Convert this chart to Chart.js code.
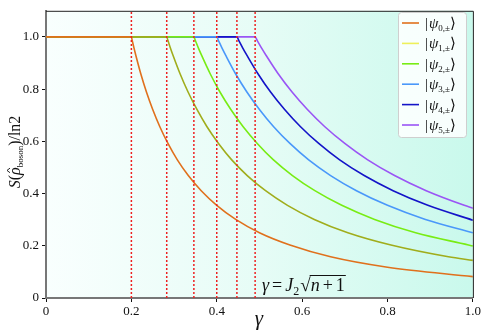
<!DOCTYPE html>
<html>
<head>
<meta charset="utf-8">
<script src="https://cdn.jsdelivr.net/npm/chart.js@4"></script>
<style>
  html, body { margin: 0; padding: 0; background: #fff; }
  canvas { display: block; }
</style>
</head>
<body>
<canvas id="chart" width="483" height="335"></canvas>
<script>
// thresholds gamma = J2 * sqrt(n+1), J2 = 0.2
const thresholds = [0.2, 0.2828, 0.3464, 0.4, 0.4472, 0.4899];

// readings of each curve: gamma values and S/ln2
const gammaN0 = [0, 0.2, 0.202, 0.2062, 0.2105, 0.2222, 0.2353, 0.25, 0.2667, 0.2857, 0.3077, 0.3333, 0.3636, 0.4, 0.4444, 0.5, 0.5714, 0.6667, 0.8, 1.0];
const entropyN0 = [1, 1, 0.986, 0.957, 0.929, 0.858, 0.789, 0.722, 0.656, 0.592, 0.529, 0.469, 0.411, 0.355, 0.301, 0.250, 0.203, 0.158, 0.118, 0.082];

const gammaN1 = [0, 0.2828, 0.2857, 0.2916, 0.2977, 0.3143, 0.3328, 0.3536, 0.3771, 0.4041, 0.4351, 0.4714, 0.5143, 0.5657, 0.6285, 0.7071, 0.8081, 0.9428, 1.0];
const entropyN1 = [1, 1, 0.986, 0.957, 0.929, 0.858, 0.789, 0.722, 0.656, 0.592, 0.529, 0.469, 0.411, 0.355, 0.301, 0.250, 0.203, 0.158, 0.144];

const gammaN2 = [0, 0.3464, 0.3499, 0.3571, 0.3646, 0.3849, 0.4075, 0.433, 0.4619, 0.4949, 0.5329, 0.5774, 0.6298, 0.6928, 0.7698, 0.866, 0.9897, 1.0];
const entropyN2 = [1, 1, 0.986, 0.957, 0.929, 0.858, 0.789, 0.722, 0.656, 0.592, 0.529, 0.469, 0.411, 0.355, 0.301, 0.250, 0.203, 0.199];

const gammaN3 = [0, 0.4, 0.404, 0.4124, 0.4211, 0.4444, 0.4706, 0.5, 0.5333, 0.5714, 0.6154, 0.6667, 0.7273, 0.8, 0.8889, 1.0];
const entropyN3 = [1, 1, 0.986, 0.957, 0.929, 0.858, 0.789, 0.722, 0.656, 0.592, 0.529, 0.469, 0.411, 0.355, 0.301, 0.250];

const gammaN4 = [0, 0.4472, 0.4517, 0.461, 0.4708, 0.4969, 0.5261, 0.559, 0.5963, 0.6389, 0.688, 0.7454, 0.8131, 0.8944, 1.0];
const entropyN4 = [1, 1, 0.986, 0.957, 0.929, 0.858, 0.789, 0.722, 0.656, 0.592, 0.529, 0.469, 0.411, 0.355, 0.298];

const gammaN5 = [0, 0.4899, 0.4949, 0.5051, 0.5157, 0.5443, 0.5764, 0.6124, 0.6532, 0.6999, 0.7537, 0.8165, 0.8907, 0.9798, 1.0];
const entropyN5 = [1, 1, 0.986, 0.957, 0.929, 0.858, 0.789, 0.722, 0.656, 0.592, 0.529, 0.469, 0.411, 0.355, 0.344];

const stateSubs = ['0,±', '1,±', '2,±', '3,±', '4,±', '5,±'];
const lineColors = ['#e0701c', '#a0ad1c', '#78ec14', '#4a98fa', '#1414c8', '#9a55f5'];
const legendColors = ['#e0701c', '#eef05a', '#78ec14', '#4a98fa', '#1414c8', '#9a55f5'];

const xTicks = [0, 0.2, 0.4, 0.6, 0.8, 1.0];
const yTicks = [0, 0.2, 0.4, 0.6, 0.8, 1.0];

const SERIF = '"Liberation Serif", "DejaVu Serif", serif';

const allGamma = [gammaN0, gammaN1, gammaN2, gammaN3, gammaN4, gammaN5];
const allEntropy = [entropyN0, entropyN1, entropyN2, entropyN3, entropyN4, entropyN5];

const datasets = [];
// red dashed threshold lines (first = drawn on top)
thresholds.forEach(t => {
  datasets.push({
    data: [{ x: t, y: 0 }, { x: t, y: 1.1 }],
    borderColor: '#ee2020',
    borderWidth: 1.5,
    borderDash: [2, 2],
    pointRadius: 0,
    fill: false
  });
});
allGamma.forEach((g, i) => {
  datasets.push({
    data: g.map((x, k) => ({ x: x, y: allEntropy[i][k] })),
    borderColor: lineColors[i],
    borderWidth: 1.6,
    pointRadius: 0,
    cubicInterpolationMode: 'monotone',
    fill: false
  });
});

// draws a run of text pieces with different fonts, returns end x
function drawRuns(ctx, runs, x, y) {
  runs.forEach(r => {
    ctx.font = r.font;
    ctx.fillText(r.t, x, y + (r.dy || 0));
    if (r.hat) {
      // small circumflex over the glyph
      const w = ctx.measureText(r.t).width;
      ctx.save();
      ctx.lineWidth = 0.9;
      ctx.strokeStyle = ctx.fillStyle;
      ctx.beginPath();
      ctx.moveTo(x + w * 0.3, y - 10);
      ctx.lineTo(x + w * 0.6, y - 13);
      ctx.lineTo(x + w * 0.9, y - 10);
      ctx.stroke();
      ctx.restore();
    }
    x += ctx.measureText(r.t).width + (r.gap || 0);
  });
  return x;
}
function runsWidth(ctx, runs) {
  let w = 0;
  runs.forEach(r => { ctx.font = r.font; w += ctx.measureText(r.t).width + (r.gap || 0); });
  return w;
}

const backgroundPlugin = {
  id: 'bg',
  beforeDraw(chart) {
    const { ctx, chartArea: a } = chart;
    const grad = ctx.createLinearGradient(a.left, 0, a.right, 0);
    grad.addColorStop(0, '#f9fffe');
    grad.addColorStop(0.5, '#e6fcf6');
    grad.addColorStop(1, '#c9f9ec');
    ctx.save();
    ctx.fillStyle = grad;
    ctx.fillRect(a.left, a.top, a.right - a.left, a.bottom - a.top);
    ctx.restore();
  }
};

const decorPlugin = {
  id: 'decor',
  afterDraw(chart) {
    const { ctx, chartArea: a } = chart;
    ctx.save();
    // top and right frame
    ctx.strokeStyle = '#222';
    ctx.lineWidth = 1;
    ctx.beginPath();
    ctx.moveTo(a.left, a.top + 0.5);
    ctx.lineTo(a.right + 0.5, a.top + 0.5);
    ctx.lineTo(a.right + 0.5, a.bottom);
    ctx.stroke();

    ctx.fillStyle = '#111';
    ctx.textBaseline = 'alphabetic';

    // x title
    ctx.font = 'italic 21px ' + SERIF;
    ctx.textAlign = 'center';
    ctx.fillText('γ', 259, 325);
    ctx.textAlign = 'left';

    // y title
    const yRuns = [
      { t: 'S', font: 'italic 16px ' + SERIF },
      { t: '(', font: '16px ' + SERIF },
      { t: 'ρ', font: 'italic 16px ' + SERIF, hat: true },
      { t: 'boson', font: '9px ' + SERIF, dy: 3 },
      { t: ')/ln2', font: '16px ' + SERIF }
    ];
    ctx.save();
    ctx.translate(20, 152);
    ctx.rotate(-Math.PI / 2);
    drawRuns(ctx, yRuns, -runsWidth(ctx, yRuns) / 2, 0);
    ctx.restore();

    // annotation
    const aRuns = [
      { t: 'γ', font: 'italic 18px ' + SERIF, gap: 3 },
      { t: '=', font: '18px ' + SERIF, gap: 3 },
      { t: 'J', font: 'italic 18px ' + SERIF },
      { t: '2', font: '12px ' + SERIF, dy: 4, gap: 1 },
      { t: '√', font: '19px ' + SERIF }
    ];
    let ax = drawRuns(ctx, aRuns, 262, 291);
    const startBar = ax;
    ax = drawRuns(ctx, [
      { t: 'n', font: 'italic 18px ' + SERIF, gap: 3 },
      { t: '+', font: '18px ' + SERIF, gap: 3 },
      { t: '1', font: '18px ' + SERIF }
    ], ax, 291);
    ctx.strokeStyle = '#111';
    ctx.lineWidth = 1;
    ctx.beginPath();
    ctx.moveTo(startBar - 1, 275.5);
    ctx.lineTo(ax + 1, 275.5);
    ctx.stroke();

    // legend
    const lx = 398, ly = 12, lw = 68, lh = 125;
    ctx.fillStyle = 'rgba(255,255,255,0.85)';
    ctx.strokeStyle = '#cfcfcf';
    ctx.lineWidth = 1;
    ctx.beginPath();
    ctx.roundRect(lx + 0.5, ly + 0.5, lw, lh, 3);
    ctx.fill();
    ctx.stroke();
    stateSubs.forEach((s, i) => {
      const ry = 23 + i * 20.4;
      ctx.strokeStyle = legendColors[i];
      ctx.lineWidth = 1.6;
      ctx.beginPath();
      ctx.moveTo(402, ry);
      ctx.lineTo(419, ry);
      ctx.stroke();
      ctx.fillStyle = '#111';
      drawRuns(ctx, [
        { t: '|', font: '15px ' + SERIF, gap: 1 },
        { t: 'ψ', font: 'italic 15px ' + SERIF },
        { t: s, font: '9px ' + SERIF, dy: 3 },
        { t: '⟩', font: '15px ' + SERIF }
      ], 425, ry + 5);
    });
    ctx.restore();
  }
};

new Chart(document.getElementById('chart'), {
  type: 'line',
  data: { datasets: datasets },
  options: {
    responsive: false,
    animation: false,
    devicePixelRatio: 1,
    layout: { padding: { top: 1, right: 8, left: 0, bottom: 0 } },
    plugins: {
      legend: { display: false },
      tooltip: { enabled: false }
    },
    scales: {
      x: {
        type: 'linear',
        min: 0,
        max: 1,
        afterFit: s => { s.height = 37; },
        afterBuildTicks: s => { s.ticks = xTicks.map(v => ({ value: v })); },
        border: { color: '#777', width: 2 },
        grid: { drawOnChartArea: false, drawTicks: true, tickLength: 4, color: '#111', tickWidth: 1 },
        ticks: {
          color: '#111',
          padding: 2,
          font: { family: SERIF, size: 13 },
          callback: v => (v === 0 ? '0' : v.toFixed(1))
        }
      },
      y: {
        type: 'linear',
        min: 0,
        max: 1.1,
        afterFit: s => { s.width = 46; },
        afterBuildTicks: s => { s.ticks = yTicks.map(v => ({ value: v })); },
        border: { color: '#777', width: 2 },
        grid: { drawOnChartArea: false, drawTicks: true, tickLength: 4, color: '#111', tickWidth: 1 },
        ticks: {
          color: '#111',
          padding: 3,
          font: { family: SERIF, size: 13 },
          callback: v => (v === 0 ? '0' : v.toFixed(1))
        }
      }
    }
  },
  plugins: [backgroundPlugin, decorPlugin]
});
</script>
</body>
</html>
